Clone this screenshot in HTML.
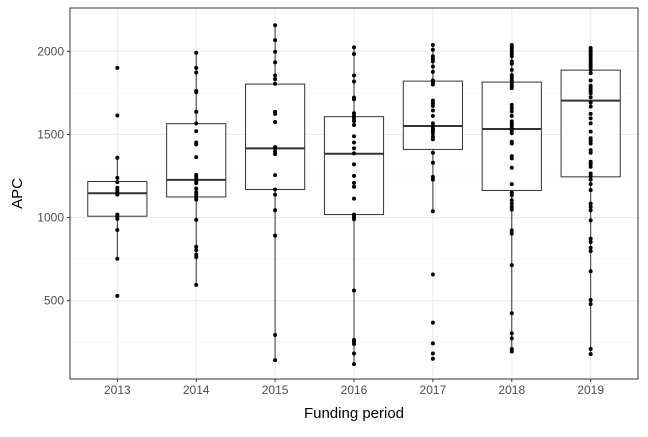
<!DOCTYPE html>
<html><head><meta charset="utf-8"><style>
body{margin:0;background:#fff}
text{font-family:"Liberation Sans",sans-serif}
</style></head><body>
<svg id="chart" width="648" height="432" xmlns="http://www.w3.org/2000/svg"></svg>
<script>
const categories=["2013","2014","2015","2016","2017","2018","2019"];
const whiskerLo=[752,595,142,118,1038,194,178];
const q1=[1008,1124,1169,1018,1410,1163,1245];
const medians=[1146,1227,1416,1384,1551,1533,1704];
const q3=[1217,1565,1803,1607,1821,1815,1887];
const whiskerHi=[1360,1992,2157,2024,2038,2038,2020];
const pts2013=[1901,1614,1360,1239,1213,1179,1165,1151,1138,1018,1006,992,925,752,529];
const pts2014=[1992,1901,1873,1762,1754,1636,1567,1519,1452,1440,1364,1257,1245,1231,1219,1207,1175,1153,1138,1124,1108,987,824,804,776,762,595];
const pts2015=[2157,2068,1998,1934,1855,1833,1805,1636,1624,1575,1424,1414,1396,1382,1255,1169,1138,1044,891,293,142];
const pts2016=[2024,1984,1855,1819,1722,1712,1628,1612,1597,1581,1557,1489,1452,1416,1386,1320,1251,1209,1185,1114,1018,1004,990,561,263,253,239,182,118];
const pts2017=[2038,2010,1970,1954,1940,1909,1877,1825,1813,1801,1704,1688,1672,1644,1612,1567,1551,1537,1523,1507,1487,1471,1390,1330,1245,1229,1038,657,368,243,182,150];
const pts2018=[2038,2026,2014,2000,1986,1970,1940,1926,1889,1857,1841,1825,1809,1793,1779,1678,1658,1638,1612,1579,1567,1553,1537,1523,1507,1456,1446,1370,1356,1300,1201,1149,1134,1104,1084,1064,1048,923,903,714,424,303,273,209,194];
const pts2019=[2020,2006,1994,1980,1966,1950,1934,1919,1905,1889,1869,1825,1793,1779,1764,1748,1724,1692,1668,1624,1597,1567,1517,1477,1462,1446,1406,1390,1336,1322,1306,1265,1249,1229,1201,1165,1084,1064,1044,983,873,853,818,798,677,504,480,210,178];
const points=[pts2013,pts2014,pts2015,pts2016,pts2017,pts2018,pts2019];
const yTicks=[500,1000,1500,2000];
const yMinor=[250,750,1250,1750];

const L=70,R=638,T=8,B=379;
const yMin=28.5,yMax=2261;
const y=v=>B-(v-yMin)/(yMax-yMin)*(B-T);
const unit=(R-L)/(categories.length-1+1.2);
const x=i=>L+unit*(i+0.6);
const bw=unit*0.75;
const svg=document.getElementById('chart');
const NS="http://www.w3.org/2000/svg";
function mk(tag,attrs,parent){const e=document.createElementNS(NS,tag);for(const k in attrs)e.setAttribute(k,attrs[k]);(parent||svg).appendChild(e);return e;}

const panel=mk('rect',{x:L,y:T,width:R-L,height:B-T,fill:'#fff'});


yMinor.forEach(v=>{const l=mk('line',{x1:L,x2:R,y1:y(v),y2:y(v),stroke:'#f2f2f2','stroke-width':0.6});

});
yTicks.forEach(v=>{const l=mk('line',{x1:L,x2:R,y1:y(v),y2:y(v),stroke:'#ebebeb','stroke-width':1.1});


const tk=mk('line',{x1:L-3,x2:L,y1:y(v),y2:y(v),stroke:'#333','stroke-width':1});


const t=mk('text',{x:L-6,y:y(v)+4,'text-anchor':'end','font-size':12,fill:'#4d4d4d'});t.textContent=v;

});
categories.forEach((c,i)=>{const l=mk('line',{x1:x(i),x2:x(i),y1:T,y2:B,stroke:'#ebebeb','stroke-width':1.1});


const tk=mk('line',{x1:x(i),x2:x(i),y1:B,y2:B+3,stroke:'#333','stroke-width':1});


const t=mk('text',{x:x(i),y:B+15,'text-anchor':'middle','font-size':12,fill:'#4d4d4d'});t.textContent=c;

});

categories.forEach((c,i)=>{
 const g=mk('g',{});
 
 
 mk('line',{x1:x(i),x2:x(i),y1:y(whiskerHi[i]),y2:y(q3[i]),stroke:'#333','stroke-width':1},g);
 mk('line',{x1:x(i),x2:x(i),y1:y(q1[i]),y2:y(whiskerLo[i]),stroke:'#333','stroke-width':1},g);
 mk('rect',{x:x(i)-bw/2,y:y(q3[i]),width:bw,height:y(q1[i])-y(q3[i]),fill:'#fff',stroke:'#333','stroke-width':1},g);
 mk('line',{x1:x(i)-bw/2,x2:x(i)+bw/2,y1:y(medians[i]),y2:y(medians[i]),stroke:'#333','stroke-width':2},g);
 points[i].forEach(v=>{const p=mk('circle',{cx:x(i),cy:y(v),r:2,fill:'#000'},g);
 
 });
});
const border=mk('rect',{x:L,y:T,width:R-L,height:B-T,fill:'none',stroke:'#333','stroke-width':1});


const xt=mk('text',{x:(L+R)/2,y:418,'text-anchor':'middle','font-size':15,fill:'#000'});xt.textContent='Funding period';


const yt=mk('text',{x:0,y:0,transform:`translate(22,${(T+B)/2}) rotate(-90)`,'text-anchor':'middle','font-size':15,fill:'#000'});yt.textContent='APC';


</script>
</body></html>
